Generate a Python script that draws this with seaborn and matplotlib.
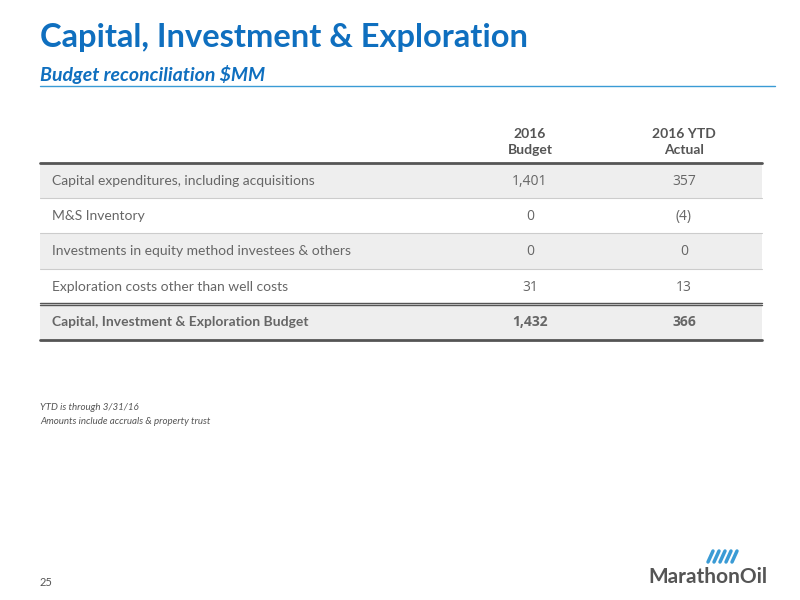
import matplotlib
matplotlib.use("Agg")
import matplotlib.pyplot as plt
import seaborn as sns

sns.set_theme(style="white")
plt.rcParams['font.family'] = ['Lato', 'DejaVu Sans']

row_labels = ["Capital expenditures, including acquisitions", "M&S Inventory",
              "Investments in equity method investees & others",
              "Exploration costs other than well costs",
              "Capital, Investment & Exploration Budget"]
budget = ["1,401", "0", "0", "31", "1,432"]
actual = ["357", "(4)", "0", "13", "366"]
col_headers = ["2016\nBudget", "2016 YTD\nActual"]

fig = plt.figure(figsize=(8, 6), dpi=100)
ax = fig.add_axes([0, 0, 1, 1])
ax.set_xlim(0, 800); ax.set_ylim(600, 0); ax.axis("off")

blue = "#0f6fbf"
ax.text(40, 38, "Capital, Investment & Exploration", color=blue, fontsize=23.5, fontweight="bold", va="center")
ax.text(40, 74, "Budget reconciliation $MM", color=blue, fontsize=14, fontweight="bold", style="italic", va="center")
ax.plot([40, 775], [86, 86], color="#3a9bd5", lw=1)

x0, x1 = 40, 762
cx = [530, 684]
tops = [163, 198, 233, 269, 304]
h = 35.5
for i, (lab, b, a) in enumerate(zip(row_labels, budget, actual)):
    t = tops[i]
    if i % 2 == 0:
        ax.fill_between([x0, x1], t, t + h, color="#eeeeee", lw=0)
    yc = t + h / 2 + 4
    bold = (i == len(row_labels) - 1)
    col = "#666666"
    fw = "bold" if bold else "normal"
    ax.text(52, yc, lab, fontsize=10, color=col, va="baseline", fontweight=fw)
    ax.text(cx[0], yc, b, fontsize=10, color=col, va="baseline", ha="center", fontweight=fw, family="Open Sans")
    ax.text(cx[1], yc, a, fontsize=10, color=col, va="baseline", ha="center", fontweight=fw, family="Open Sans")
    if 0 < i < 4:
        ax.plot([x0, x1], [t, t], color="#cccccc", lw=0.8)

for c, hdr in zip(cx, col_headers):
    ax.text(c, 142, hdr, fontsize=10, color="#555555", fontweight="bold", ha="center", va="center", linespacing=1.4)

ax.plot([x0, x1], [163, 163], color="#555555", lw=2)
ax.plot([x0, x1], [302.5, 302.5], color="#555555", lw=1)
ax.plot([x0, x1], [304.5, 304.5], color="#555555", lw=1)
ax.plot([x0, x1], [339.5, 339.5], color="#555555", lw=2)

ax.text(40, 408, "YTD is through 3/31/16", fontsize=7, style="italic", color="#555555", va="center")
ax.text(40, 421, "Amounts include accruals & property trust", fontsize=7, style="italic", color="#555555", va="center")
ax.text(40, 582, "25", fontsize=8, color="#555555", va="center")

ax.text(648, 577, "MarathonOil", fontsize=15, fontweight="bold", color="#555555", va="center")
for k in range(5):
    ax.plot([708 + k * 6, 713 + k * 6], [562, 551], color="#3a9bd5", lw=2.5)

fig.savefig("out.png", dpi=100)
